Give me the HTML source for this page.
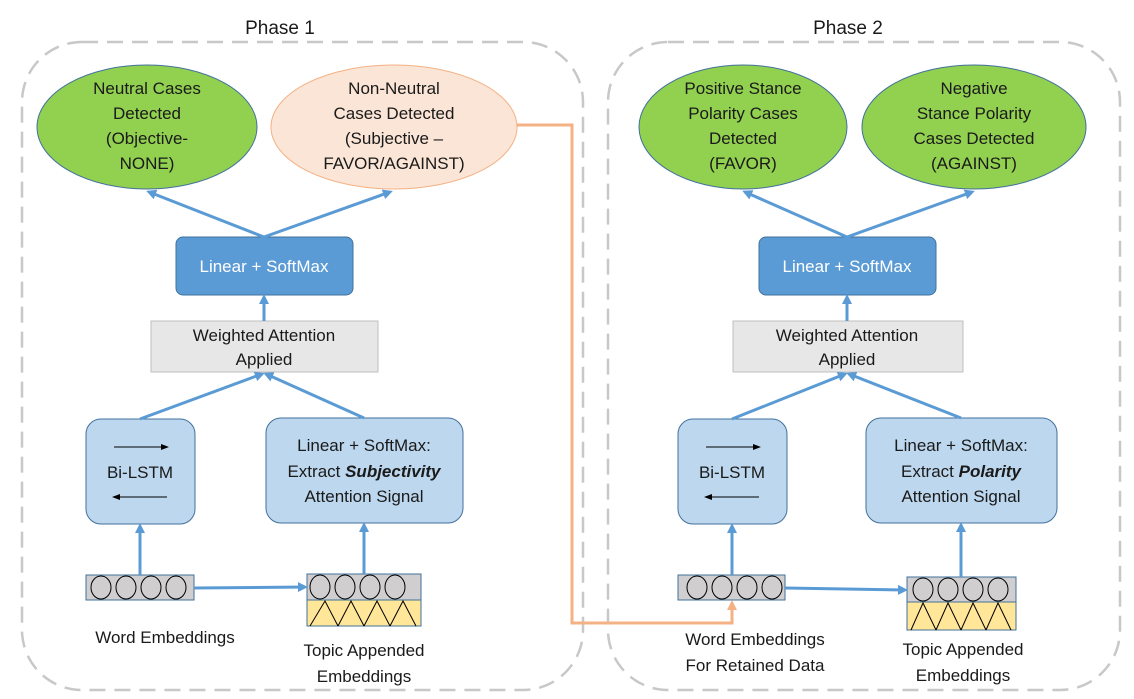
<!DOCTYPE html>
<html><head><meta charset="utf-8"><style>
body{margin:0;background:#fff}
svg{display:block}
text{font-family:"Liberation Sans",sans-serif;font-size:17px;fill:#1a1a1a;text-anchor:middle}
.w{fill:#fff}
</style></head><body>
<svg width="1134" height="699" viewBox="0 0 1134 699">
<defs>
<marker id="a" markerWidth="10" markerHeight="10" refX="7" refY="5" orient="auto" markerUnits="userSpaceOnUse"><path d="M0,0 L10,5 L0,10 z" fill="#5b9bd5"/></marker>
<marker id="o" markerWidth="10" markerHeight="10" refX="7" refY="5" orient="auto" markerUnits="userSpaceOnUse"><path d="M0,0 L10,5 L0,10 z" fill="#f4b183"/></marker>
<marker id="k" markerWidth="8" markerHeight="8" refX="6" refY="4" orient="auto" markerUnits="userSpaceOnUse"><path d="M0,1 L8,4 L0,7 z" fill="#000"/></marker>
</defs>
<rect x="22" y="42" width="561" height="648" rx="60" fill="none" stroke="#c8c8c8" stroke-width="2.5" stroke-dasharray="16,9"/>
<rect x="608" y="42" width="512" height="648" rx="60" fill="none" stroke="#c8c8c8" stroke-width="2.5" stroke-dasharray="16,9"/>
<text x="280" y="34" style="font-size:19px">Phase 1</text>
<text x="848" y="34" style="font-size:19px">Phase 2</text>

<ellipse cx="147" cy="127" rx="110" ry="62" fill="#92d050" stroke="#41719c" stroke-width="1"/>
<text x="147" y="94">Neutral Cases</text><text x="147" y="119">Detected</text><text x="147" y="144">(Objective-</text><text x="147" y="169">NONE)</text>
<ellipse cx="394" cy="127" rx="123" ry="62" fill="#fbe5d6" stroke="#f4b183" stroke-width="1"/>
<text x="394" y="94">Non-Neutral</text><text x="394" y="119">Cases Detected</text><text x="394" y="144">(Subjective –</text><text x="394" y="169">FAVOR/AGAINST)</text>
<ellipse cx="743" cy="127" rx="104" ry="62" fill="#92d050" stroke="#41719c" stroke-width="1"/>
<text x="743" y="94">Positive Stance</text><text x="743" y="119">Polarity Cases</text><text x="743" y="144">Detected</text><text x="743" y="169">(FAVOR)</text>
<ellipse cx="974" cy="127" rx="112" ry="62" fill="#92d050" stroke="#41719c" stroke-width="1"/>
<text x="974" y="94">Negative</text><text x="974" y="119">Stance Polarity</text><text x="974" y="144">Cases Detected</text><text x="974" y="169">(AGAINST)</text>

<rect x="176" y="237" width="177" height="58" rx="7" fill="#5b9bd5" stroke="#41719c"/>
<text class="w" x="264" y="272">Linear + SoftMax</text>
<rect x="759" y="237" width="177" height="58" rx="7" fill="#5b9bd5" stroke="#41719c"/>
<text class="w" x="847" y="272">Linear + SoftMax</text>

<rect x="151" y="321" width="227" height="51" fill="#e7e7e7" stroke="#bfbfbf"/>
<text x="264" y="341">Weighted Attention</text><text x="264" y="365">Applied</text>
<rect x="733" y="321" width="230" height="51" fill="#e7e7e7" stroke="#bfbfbf"/>
<text x="847" y="341">Weighted Attention</text><text x="847" y="365">Applied</text>

<rect x="86" y="419" width="109" height="105" rx="15" fill="#bdd7ee" stroke="#41719c"/>
<line x1="114" y1="447" x2="167" y2="447" stroke="#000" marker-end="url(#k)"/>
<line x1="167" y1="497" x2="114" y2="497" stroke="#000" marker-end="url(#k)"/>
<text x="140" y="478">Bi-LSTM</text>
<rect x="678" y="419" width="109" height="105" rx="15" fill="#bdd7ee" stroke="#41719c"/>
<line x1="706" y1="447" x2="759" y2="447" stroke="#000" marker-end="url(#k)"/>
<line x1="759" y1="497" x2="706" y2="497" stroke="#000" marker-end="url(#k)"/>
<text x="732" y="478">Bi-LSTM</text>

<rect x="266" y="418" width="197" height="105" rx="15" fill="#bdd7ee" stroke="#41719c"/>
<text x="364" y="451">Linear + SoftMax:</text>
<text x="364" y="477">Extract <tspan font-weight="bold" font-style="italic">Subjectivity</tspan></text>
<text x="364" y="502">Attention Signal</text>
<rect x="866" y="418" width="191" height="105" rx="15" fill="#bdd7ee" stroke="#41719c"/>
<text x="961" y="451">Linear + SoftMax:</text>
<text x="961" y="477">Extract <tspan font-weight="bold" font-style="italic">Polarity</tspan></text>
<text x="961" y="502">Attention Signal</text>

<g stroke="#000" stroke-width="1">
<rect x="86" y="575" width="108" height="25" fill="#d0cece" stroke="#41719c"/>
<ellipse cx="101" cy="587.5" rx="10" ry="11.5" fill="none"/><ellipse cx="126" cy="587.5" rx="10" ry="11.5" fill="none"/><ellipse cx="151" cy="587.5" rx="10" ry="11.5" fill="none"/><ellipse cx="176" cy="587.5" rx="10" ry="11.5" fill="none"/>
<rect x="307" y="574" width="114" height="26" fill="#d0cece" stroke="#41719c"/>
<rect x="307" y="600" width="114" height="26" fill="#ffe699" stroke="#41719c"/>
<ellipse cx="320" cy="587" rx="10" ry="12" fill="none"/><ellipse cx="345" cy="587" rx="10" ry="12" fill="none"/><ellipse cx="370" cy="587" rx="10" ry="12" fill="none"/><ellipse cx="395" cy="587" rx="10" ry="12" fill="none"/>
<path d="M310,626 L325,601 L338,626 M338,626 L351,601 L364,626 M364,626 L377,601 L390,626 M390,626 L403,601 L416,626" fill="none"/>

<rect x="678" y="575" width="107" height="25" fill="#d0cece" stroke="#41719c"/>
<ellipse cx="697" cy="587.5" rx="10" ry="11.5" fill="none"/><ellipse cx="722" cy="587.5" rx="10" ry="11.5" fill="none"/><ellipse cx="747" cy="587.5" rx="10" ry="11.5" fill="none"/><ellipse cx="772" cy="587.5" rx="10" ry="11.5" fill="none"/>
<rect x="907" y="577" width="109" height="25" fill="#d0cece" stroke="#41719c"/>
<rect x="907" y="602" width="109" height="28" fill="#ffe699" stroke="#41719c"/>
<ellipse cx="923" cy="589.5" rx="10" ry="11.5" fill="none"/><ellipse cx="948" cy="589.5" rx="10" ry="11.5" fill="none"/><ellipse cx="973" cy="589.5" rx="10" ry="11.5" fill="none"/><ellipse cx="998" cy="589.5" rx="10" ry="11.5" fill="none"/>
<path d="M911,630 L923,603 L936,630 M936,630 L948,603 L961,630 M961,630 L973,603 L986,630 M986,630 L998,603 L1011,630" fill="none"/>
</g>
<text x="165" y="643">Word Embeddings</text>
<text x="364" y="656">Topic Appended</text><text x="364" y="682">Embeddings</text>
<text x="755" y="645">Word Embeddings</text><text x="755" y="671">For Retained Data</text>
<text x="963" y="655">Topic Appended</text><text x="963" y="681">Embeddings</text>

<g stroke="#5b9bd5" stroke-width="3" fill="none">
<line x1="264" y1="237" x2="149" y2="192" marker-end="url(#a)"/>
<line x1="264" y1="237" x2="390" y2="192" marker-end="url(#a)"/>
<line x1="264" y1="321" x2="264" y2="297" marker-end="url(#a)"/>
<line x1="140" y1="419" x2="262" y2="374" marker-end="url(#a)"/>
<line x1="364" y1="418" x2="266" y2="374" marker-end="url(#a)"/>
<line x1="140" y1="575" x2="140" y2="526" marker-end="url(#a)"/>
<line x1="364" y1="574" x2="364" y2="525" marker-end="url(#a)"/>
<line x1="194" y1="588" x2="305" y2="587" marker-end="url(#a)"/>
<line x1="847" y1="237" x2="745" y2="192" marker-end="url(#a)"/>
<line x1="847" y1="237" x2="972" y2="192" marker-end="url(#a)"/>
<line x1="847" y1="321" x2="847" y2="297" marker-end="url(#a)"/>
<line x1="732" y1="419" x2="845" y2="374" marker-end="url(#a)"/>
<line x1="961" y1="418" x2="849" y2="374" marker-end="url(#a)"/>
<line x1="732" y1="575" x2="732" y2="526" marker-end="url(#a)"/>
<line x1="961" y1="577" x2="961" y2="525" marker-end="url(#a)"/>
<line x1="785" y1="588" x2="905" y2="590" marker-end="url(#a)"/>
</g>
<path d="M517,125 L572,125 L572,623 L732,623 L732,603" stroke="#f4b183" stroke-width="3" fill="none" marker-end="url(#o)"/>
</svg>
</body></html>
